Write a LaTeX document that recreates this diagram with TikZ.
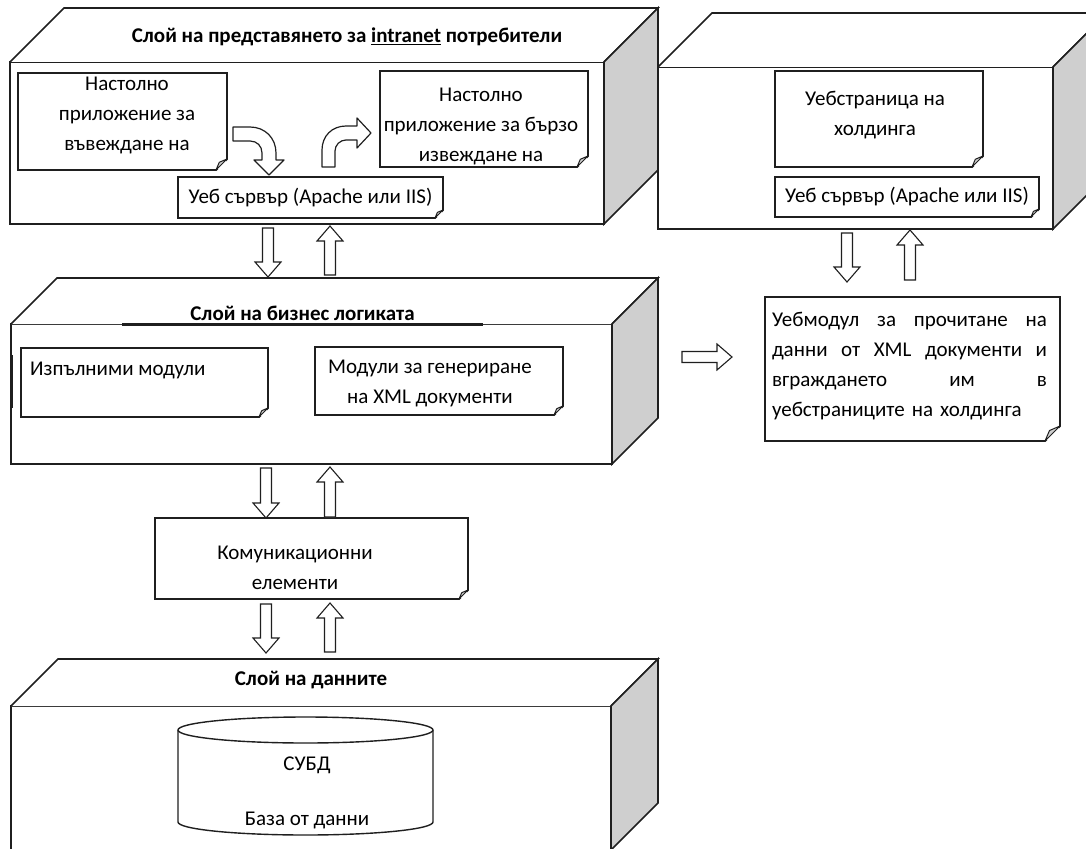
\documentclass[tikz,border=0pt]{standalone}
\usepackage{fontspec}
\setmainfont{Carlito}
\usetikzlibrary{calc}

\definecolor{lc}{gray}{0.12}
\definecolor{sidegray}{gray}{0.81}

\tikzset{
  layer/.style={draw=lc, line width=1.6pt, fill=white, inner sep=0pt, outer sep=0pt},
  note/.style={draw=lc, line width=1.4pt, fill=white, inner sep=0pt, outer sep=0pt,
    font=\fontsize{21}{30}\selectfont},
  txt/.style={font=\fontsize{21}{30}\selectfont, align=center, inner sep=0pt},
  title/.style={font=\bfseries\fontsize{21}{30}\selectfont, inner sep=0pt},
  bent/.style={draw=lc, line width=1.2pt, fill=white, line join=round},
  fold/.style={draw=lc, line width=1pt, fill=sidegray, line join=round},
  barrow/.style={draw=lc, line width=1.1pt, fill=white,
    to path={let \p1=(\tikztostart), \p2=(\tikztotarget),
      \n1={atan2(\y2-\y1,\x2-\x1)}, \n2={veclen(\x2-\x1,\y2-\y1)-15} in
      ($(\p1)+(\n1+90:5.5)$) -- ($(\p1)+(\n1:\n2)+(\n1+90:5.5)$)
      -- ($(\p1)+(\n1:\n2)+(\n1+90:13)$) -- (\p2)
      -- ($(\p1)+(\n1:\n2)+(\n1-90:13)$) -- ($(\p1)+(\n1:\n2)+(\n1-90:5.5)$)
      -- ($(\p1)+(\n1-90:5.5)$) -- cycle}},
}

% top and side face of a layer box
\newcommand\boxdepth[2]{%
  \draw[layer] (#1.north west) -- ++(#2,#2) -- ($(#1.north east)+(#2,#2)$) -- (#1.north east);
  \filldraw[layer, fill=sidegray] (#1.north east) -- ++(#2,#2) -- ($(#1.south east)+(#2,#2)$) -- (#1.south east) -- cycle;
}

\begin{document}
\begin{tikzpicture}[x=1pt,y=1pt]
 \clip (0,0) rectangle (1086,-848);

 % Presentation layer
 \node[layer, minimum width=594, minimum height=162] (toplay) at (307,-143) {};
 \boxdepth{toplay}{54}
 \node[title] (toptitle) at (347,-37) {Слой на представянето за \underline{intranet} потребители};
 \node[note, minimum width=209, minimum height=97] (inapp) at (122.5,-121.5) {};
 \node[txt] (inapp-t) at (127,-115) {Настолно\\приложение за\\въвеждане на};
 \node[note, minimum width=208, minimum height=96] (outapp) at (484,-119) {};
 \node[txt] (outapp-t) at (481,-126.5) {Настолно\\приложение за бързо\\извеждане на};
 \node[note, minimum width=265, minimum height=41] (web1) at (310.5,-197.5) {Уеб сървър (Apache или IIS)};

 % bent arrows
 \draw[bent] (233,-127) -- (250,-127) .. controls (265,-127) and (276,-138) .. (276,-153)
   -- (276,-160) -- (284,-160) -- (269,-175) -- (254,-160) -- (262,-160) -- (262,-153)
   .. controls (262,-146) and (257,-141) .. (250,-141) -- (233,-141) -- cycle;
 \draw[bent] (322,-167) -- (322,-150) .. controls (322,-136) and (332,-126) .. (346,-126)
   -- (357,-126) -- (357,-118) -- (371,-133) -- (357,-148) -- (357,-140) -- (346,-140)
   .. controls (340,-140) and (335,-145) .. (335,-151) -- (335,-167) -- cycle;

 % Holding site
 \node[layer, minimum width=395, minimum height=162] (holdlay) at (855.5,-148) {};
 \boxdepth{holdlay}{54}
 \node[note, minimum width=208, minimum height=96] (holdpage) at (879,-119) {};
 \node[txt] (holdpage-t) at (875,-115) {Уебстраница на\\холдинга};
 \node[note, minimum width=264, minimum height=40] (web2) at (907,-197) {Уеб сървър (Apache или IIS)};

 % Business logic layer
 \node[layer, minimum width=601, minimum height=140] (bizlay) at (311.5,-394) {};
 \boxdepth{bizlay}{46}
 \draw[lc, line width=3pt] (122,-324) -- (483,-324);
 \draw[lc, line width=3pt] (11,-355) -- (11,-408);
 \node[title] (biztitle) at (302.5,-313) {Слой на бизнес логиката};
 \node[note, minimum width=247, minimum height=69] (exec) at (144.5,-382.5) {};
 \node[txt, anchor=west] (exec-t) at (30,-370) {Изпълними модули};
 \node[note, minimum width=248, minimum height=68] (xmlgen) at (439,-381) {};
 \node[txt] (xmlgen-t) at (430,-383.5) {Модули за генериране\\на XML документи};

 % XML web module
 \node[note, minimum width=295, minimum height=144] (webmod) at (912.5,-369) {};
 \node[txt, text width=275pt, align=left] (webmod-t) at (909.5,-366) {%
   \makebox[275pt]{Уебмодул\hfill за\hfill прочитане\hfill на}\\
   \makebox[275pt]{данни\hfill от\hfill XML\hfill документи\hfill и}\\
   \makebox[275pt]{вграждането\hfill им\hfill в}\\
   уебстраниците на холдинга};

 % Communication
 \node[note, minimum width=313, minimum height=81] (comm) at (311.5,-558.5) {};
 \node[txt] (comm-t) at (295,-568) {Комуникационни\\елементи};

 % Data layer
 \node[layer, minimum width=600, minimum height=144] (datlay) at (311,-778) {};
 \boxdepth{datlay}{47}
 \node[title] (dattitle) at (311,-680) {Слой на данните};
 \draw[note] (178,-730) -- (178,-822) arc[start angle=180, end angle=360, x radius=127.5, y radius=13]
   -- (433,-730) arc[start angle=0, end angle=180, x radius=127.5, y radius=13] -- cycle;
 \draw[note] (178,-730) arc[start angle=180, end angle=360, x radius=127.5, y radius=13];
 \node[txt] (dbms) at (307,-765) {СУБД};
 \node[txt] (dbname) at (307,-820) {База от данни};

 % folded corners
 \foreach \n/\c in {inapp/11, outapp/11, web1/8, holdpage/11, web2/8, exec/9, xmlgen/9, webmod/15, comm/9} {
   \fill[white] ($(\n.south east)+(1.5,-1.5)$) -- ($(\n.south east)+(-\c,-1.5)$) -- ($(\n.south east)+(1.5,\c)$) -- cycle;
   \draw[fold] ($(\n.south east)+(-\c,0)$) -- ($(\n.south east)+(0,\c)$) -- ($(\n.south east)+(-0.7*\c,0.7*\c)$) -- cycle;
 }

 % block arrows
 \draw[barrow] ($(toplay.south)+(-39,-4)$) to ($(bizlay.north)+(-43.5,47)$);
 \draw[barrow] ($(bizlay.north)+(18.5,49)$) to ($(toplay.south)+(23,-2)$);
 \draw[barrow] ($(holdlay.south)+(-8.5,-4)$) to ($(webmod.north)+(-65.5,15)$);
 \draw[barrow] ($(webmod.north)+(-2.5,17)$) to ($(holdlay.south)+(54.5,-1)$);
 \draw[barrow] ($(bizlay.east)+(70,37)$) to ($(webmod.west)+(-33,12)$);
 \draw[barrow] ($(bizlay.south)+(-45.5,-4)$) to (comm.north -| 266,0);
 \draw[barrow] ($(comm.north)+(18.5,1)$) to ($(bizlay.south)+(18.5,-3)$);
 \draw[barrow] ($(comm.south)+(-45.5,-5)$) to ($(datlay.north)+(-45,53)$);
 \draw[barrow] ($(datlay.north)+(19,54)$) to ($(comm.south)+(18.5,-4)$);
\end{tikzpicture}
\end{document}
